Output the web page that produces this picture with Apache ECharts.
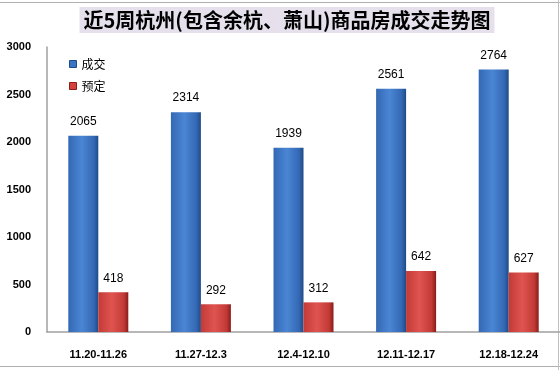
<!DOCTYPE html>
<html><head><meta charset="utf-8">
<script src="https://cdn.jsdelivr.net/npm/echarts@6/dist/echarts.min.js"></script>
<style>html,body{margin:0;padding:0;background:#fff}#c{width:560px;height:370px}</style>
</head><body><div id="c"></div>
<script>
const categories = ['11.20-11.26','11.27-12.3','12.4-12.10','12.11-12.17','12.18-12.24'];
const dealValues = [2065, 2314, 1939, 2561, 2764];
const bookValues = [418, 292, 312, 642, 627];
const yTicks = [0, 500, 1000, 1500, 2000, 2500, 3000];

const chart = echarts.init(document.getElementById('c'));
function grad(edge, mid, dark){
  return new echarts.graphic.LinearGradient(0,0,1,0,[
    {offset:0,color:edge},{offset:0.45,color:mid},{offset:0.85,color:edge},{offset:1,color:dark}
  ]);
}
const blue = grad('#3468b4','#4a86d4','#1f4a86');
const red = grad('#c23a36','#e05450','#8a1c1a');
chart.setOption({
  animation:false,
  title:{
    text:'近5周杭州(包含余杭、萧山)商品房成交走势图',
    left:283, top:7, textAlign:'center',
    backgroundColor:'#e5e0ec',
    padding:[3,4,3,4],
    textStyle:{fontFamily:'Noto Sans CJK SC',fontSize:20,fontWeight:'bold',color:'#000'}
  },
  legend:{
    orient:'vertical', left:64, top:53, itemWidth:7, itemHeight:7, itemGap:10,
    icon:'rect',
    textStyle:{fontFamily:'Noto Sans CJK SC',fontSize:12,color:'#000'},
    data:[{name:'成交',itemStyle:{color:'#3a74c4',borderColor:'#1f4a86',borderWidth:1}},
          {name:'预定',itemStyle:{color:'#d6403c',borderColor:'#8a1c1a',borderWidth:1}}]
  },
  grid:{left:47,right:0,top:47,bottom:38,containLabel:false},
  xAxis:{
    type:'category', data:categories,
    axisLine:{lineStyle:{color:'#a0a0a0',width:1.5}},
    axisTick:{show:false},
    axisLabel:{margin:17,fontFamily:'Arial',fontSize:11,fontWeight:'bold',color:'#000'}
  },
  yAxis:{
    type:'value', min:yTicks[0], max:yTicks[yTicks.length-1], interval:500,
    axisLine:{show:true,lineStyle:{color:'#a0a0a0',width:1.5}},
    axisTick:{show:false}, splitLine:{show:false},
    axisLabel:{margin:16,fontFamily:'Arial',fontSize:11,fontWeight:'bold',color:'#000',
      formatter:function(v){return String(v);}}
  },
  series:[
    {name:'成交',type:'bar',data:dealValues,barWidth:30,barGap:'0%',
     itemStyle:{color:blue},
     label:{show:true,position:'top',distance:8,fontFamily:'Arial',fontSize:12,color:'#000'}},
    {name:'预定',type:'bar',data:bookValues,barWidth:30,barGap:'0%',
     itemStyle:{color:red},
     label:{show:true,position:'top',distance:8,fontFamily:'Arial',fontSize:12,color:'#000'}}
  ],
  graphic:[
    {type:'line',shape:{x1:0,y1:2.5,x2:560,y2:2.5},style:{stroke:'#b0b0b0',lineWidth:1}},
    {type:'line',shape:{x1:0,y1:366.5,x2:560,y2:366.5},style:{stroke:'#b0b0b0',lineWidth:1}},
    {type:'line',shape:{x1:558.5,y1:0,x2:558.5,y2:370},style:{stroke:'#c0c0c0',lineWidth:1}}
  ]
});
</script></body></html>
